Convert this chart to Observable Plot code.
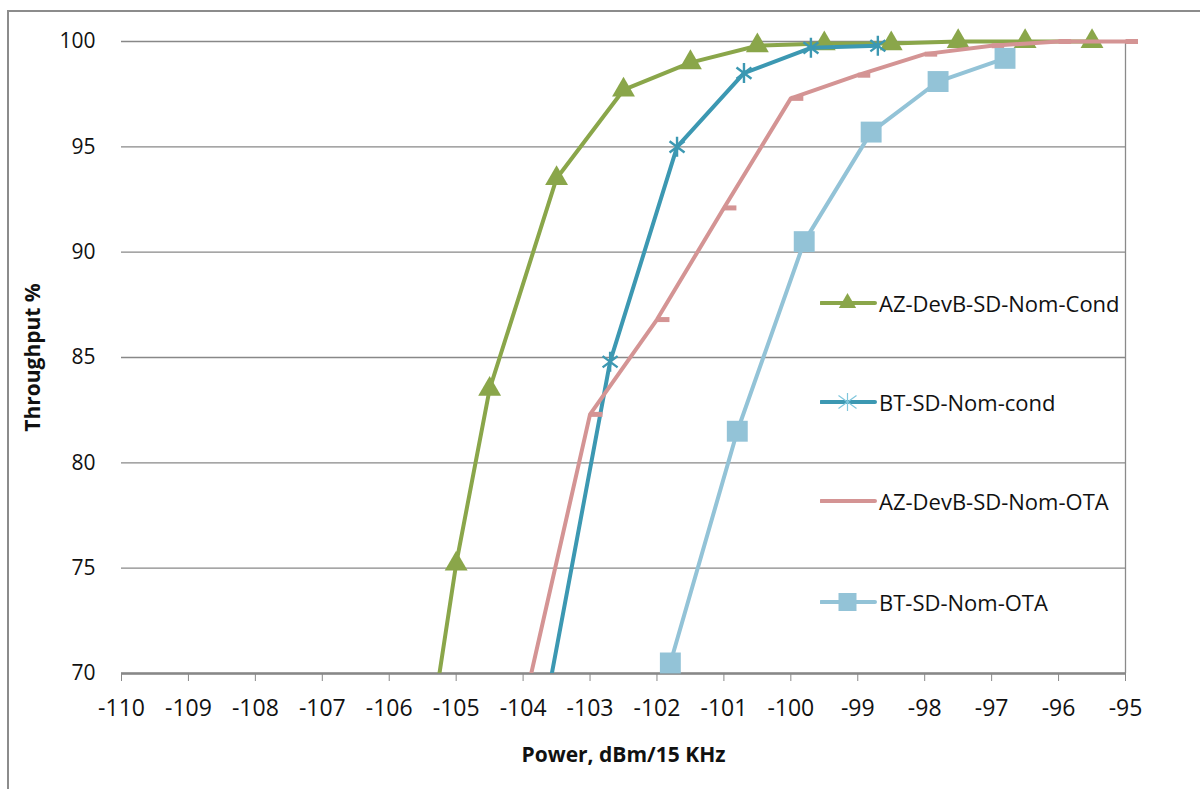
<!DOCTYPE html>
<html><head><meta charset="utf-8">
<script src="https://cdn.jsdelivr.net/npm/d3@7"></script>
<script src="https://cdn.jsdelivr.net/npm/@observablehq/plot@0.6"></script>
<style>
body{margin:0;background:#fff;overflow:hidden}
#wrap{position:relative;width:1200px;height:789px;overflow:hidden;font-family:"Open Sans",sans-serif;background:#fff}
#border{position:absolute;left:7px;top:10px;width:1300px;height:900px;border:2.5px solid #8c8c8c}
#chart{position:absolute;left:0;top:0}
.lg{position:absolute;left:820px;height:30px;display:flex;align-items:center;font-size:22px;color:#111;white-space:nowrap}
.lg svg{margin-right:2px}
</style></head>
<body>
<div id="wrap"><div id="border"></div><div id="chart"></div></div>
<script>
// ---- data ----
const seriesNames = ["AZ-DevB-SD-Nom-Cond","BT-SD-Nom-cond","AZ-DevB-SD-Nom-OTA","BT-SD-Nom-OTA"];
const seriesColors = ["#8AA64A","#3C98B2","#D49494","#93C3D7"];
const condX = [-105.5,-105,-104.5,-103.5,-102.5,-101.5,-100.5,-99.5,-98.5,-97.5,-96.5,-95.5];
const condY = [64.8,75.2,83.5,93.5,97.7,99.0,99.8,99.9,99.9,100,100,100];
const btCondX = [-103.7,-102.7,-101.7,-100.7,-99.7,-98.7];
const btCondY = [67.8,84.8,95.0,98.5,99.7,99.8];
const otaX = [-104,-103,-102,-101,-100,-99,-98,-97,-96,-95];
const otaY = [68.3,82.3,86.8,92.1,97.3,98.4,99.4,99.8,100,100];
const btOtaX = [-101.8,-100.8,-99.8,-98.8,-97.8,-96.8];
const btOtaY = [70.5,81.5,90.5,95.7,98.1,99.2];
const xTicks = [-110,-109,-108,-107,-106,-105,-104,-103,-102,-101,-100,-99,-98,-97,-96,-95];
const yTicks = [70,75,80,85,90,95,100];
const xTitle = "Power, dBm/15 KHz";
const yTitle = "Throughput %";

const seriesX = [condX, btCondX, otaX, btOtaX];
const seriesY = [condY, btCondY, otaY, btOtaY];

const dash = {draw(ctx){ctx.moveTo(0,-2.5);ctx.lineTo(12.5,-2.5);ctx.lineTo(12.5,2.5);ctx.lineTo(0,2.5);ctx.closePath();}};
const starX = {draw(ctx){const a=10, b=7.5;
  ctx.moveTo(0,-a);ctx.lineTo(0,a);
  ctx.moveTo(-b,-b*0.75);ctx.lineTo(b,b*0.75);
  ctx.moveTo(-b,b*0.75);ctx.lineTo(b,-b*0.75);}};
const markerSpec = [
  {symbol:"triangle", r:8.5, fill:true},
  {symbol:starX, r:10, fill:false},
  {symbol:dash, r:5, fill:true},
  {symbol:"square", r:11.8, fill:true}
];

const marks = [
  Plot.gridY(yTicks, {stroke:"#888", strokeOpacity:1, strokeWidth:1.3}),
  Plot.ruleX([-95], {stroke:"#8a8a8a", strokeWidth:1.3}),
  Plot.ruleY([70], {stroke:"#888", strokeWidth:2.5}),
  Plot.axisX({ticks:xTicks, tickFormat:d=>String(d), tickSize:8, tickPadding:18, fontSize:23, stroke:"#888",
    label:xTitle, labelAnchor:"center", labelArrow:"none", labelOffset:88}),
  Plot.axisY({ticks:yTicks, tickSize:0, tickPadding:26, fontSize:21,
    label:yTitle, labelAnchor:"center", labelArrow:"none", labelOffset:96})
];
seriesNames.forEach((name,i)=>{
  const rows = seriesX[i].map((x,j)=>({series:name, x, y:seriesY[i][j]}));
  marks.push(Plot.line(rows, {x:"x", y:"y", stroke:seriesColors[i], strokeWidth:4, clip:true, strokeLinejoin:"round"}));
  const m = markerSpec[i];
  marks.push(Plot.dot(rows.filter(d=>d.y>=70), {x:"x", y:"y", symbol:()=>m.symbol, r:m.r,
    fill: m.fill ? seriesColors[i] : "none", stroke: m.fill ? "none" : seriesColors[i], strokeWidth:2.4}));
});

const chart = Plot.plot({
  width:1200, height:789,
  marginLeft:121, marginRight:75, marginTop:41, marginBottom:116,
  x:{domain:[-110,-95]}, y:{domain:[70,100]},
  style:{background:"transparent", fontFamily:"'Open Sans', sans-serif", color:"#111", overflow:"visible"},
  marks
});
// enlarge clip region slightly so lines at 100 % are not cut in half
chart.querySelectorAll("clipPath rect").forEach(r=>{
  const y=+r.getAttribute("y"), h=+r.getAttribute("height"), w=+r.getAttribute("width");
  r.setAttribute("y", y-8); r.setAttribute("height", h+8); r.setAttribute("width", w+15);
});
chart.querySelectorAll('g[aria-label="x-axis label"] text, g[aria-label="y-axis label"] text').forEach(t=>{
  t.setAttribute("font-size","21"); t.setAttribute("font-weight","bold"); t.setAttribute("fill","#111");
});
document.getElementById("chart").appendChild(chart);

// ---- legend ----
const legendTops = [303,402,501,602];
const wrap = document.getElementById("wrap");
seriesNames.forEach((name,i)=>{
  const row = document.createElement("div");
  row.className = "lg";
  row.style.top = (legendTops[i]-15)+"px";
  let mk = "";
  if(i===0) mk = `<path transform="translate(27.5,15)" d="${d3.symbol(d3.symbolTriangle, 130)()}" fill="${seriesColors[0]}"/>`;
  if(i===1) mk = `<path transform="translate(27.5,15)" d="M0,-9L0,9M-9,-6.5L9,6.5M-9,6.5L9,-6.5" fill="none" stroke="#7fc6dc" stroke-width="1.2"/>`;
  if(i===3) mk = `<path transform="translate(27.5,15)" d="${d3.symbol(d3.symbolSquare, 324)()}" fill="${seriesColors[3]}"/>`;
  row.innerHTML = `<svg width="57" height="30"><line x1="1" x2="55" y1="15" y2="15" stroke="${seriesColors[i]}" stroke-width="4" stroke-linecap="round"/>${mk}</svg><span>${name}</span>`;
  wrap.appendChild(row);
});
</script>
</body></html>
